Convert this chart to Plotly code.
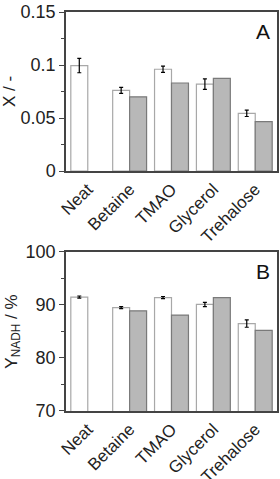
import plotly.graph_objects as go
from plotly.subplots import make_subplots

categories = ["Neat", "Betaine", "TMAO", "Glycerol", "Trehalose"]
x_white = [0.0995, 0.0761, 0.0960, 0.0820, 0.0544]
x_white_err = [0.0068, 0.0028, 0.0030, 0.0050, 0.0030]
x_grey = [None, 0.0700, 0.0830, 0.0874, 0.0465]
y_white = [91.5, 89.5, 91.4, 90.1, 86.5]
y_white_err = [0.2, 0.2, 0.2, 0.4, 0.7]
y_grey = [None, 88.9, 88.1, 91.4, 85.2]

FONT = "Liberation Sans, Arial, sans-serif"
fig = make_subplots(rows=2, cols=1, vertical_spacing=0.203)

def add(row, white, err, grey):
    fig.add_trace(go.Bar(x=categories, y=white,
                         marker=dict(color="white", line=dict(color="#a8a8a8", width=1.2)),
                         error_y=dict(type="data", array=err, color="black", thickness=1.2, width=2),
                         showlegend=False), row=row, col=1)
    fig.add_trace(go.Bar(x=categories, y=grey,
                         marker=dict(color="#b8b8b8", line=dict(color="#7a7a7a", width=1.2)),
                         showlegend=False), row=row, col=1)

add(1, x_white, x_white_err, x_grey)
add(2, y_white, y_white_err, y_grey)

axis_common = dict(showline=True, linecolor="#444", linewidth=1.5, mirror=True,
                   showgrid=False, zeroline=False, automargin=False)
fig.update_xaxes(**axis_common, tickangle=-45, ticks="", range=[-0.52, 4.52],
                 tickfont=dict(family=FONT, size=17, color="#222"))
fig.update_yaxes(**axis_common, ticks="outside", ticklen=5, tickcolor="#444",
                 tickfont=dict(family=FONT, size=18, color="#222"))
fig.update_yaxes(range=[0, 0.15], tickvals=[0, 0.05, 0.1, 0.15], ticktext=["0", "0.05", "0.1", "0.15"],
                 minor=dict(ticks="outside", ticklen=3, tickcolor="#444", dtick=0.025, tick0=0),
                 title=dict(text="X / -", font=dict(family=FONT, size=17, color="#222"), standoff=4),
                 row=1, col=1)
fig.update_yaxes(range=[70, 100], tickvals=[70, 80, 90, 100],
                 minor=dict(ticks="outside", ticklen=3, tickcolor="#444", dtick=5, tick0=70),
                 title=dict(text="Y<sub>NADH</sub> / %", font=dict(family=FONT, size=17, color="#222"), standoff=4),
                 row=2, col=1)

fig.add_annotation(text="A", xref="x domain", yref="y domain", x=0.975, y=0.965,
                   xanchor="right", yanchor="top", showarrow=False,
                   font=dict(family=FONT, size=21, color="#111"))
fig.add_annotation(text="B", xref="x2 domain", yref="y2 domain", x=0.975, y=0.965,
                   xanchor="right", yanchor="top", showarrow=False,
                   font=dict(family=FONT, size=21, color="#111"))

fig.update_layout(width=280, height=479, barmode="group", bargap=0.19, bargroupgap=0,
                  margin=dict(l=66, r=3, t=12, b=68),
                  plot_bgcolor="white", paper_bgcolor="white",
                  font=dict(family=FONT))
fig.write_html("out.html", config={"displayModeBar": False},
               post_script="document.body.style.margin='0';document.body.style.overflow='hidden';")
